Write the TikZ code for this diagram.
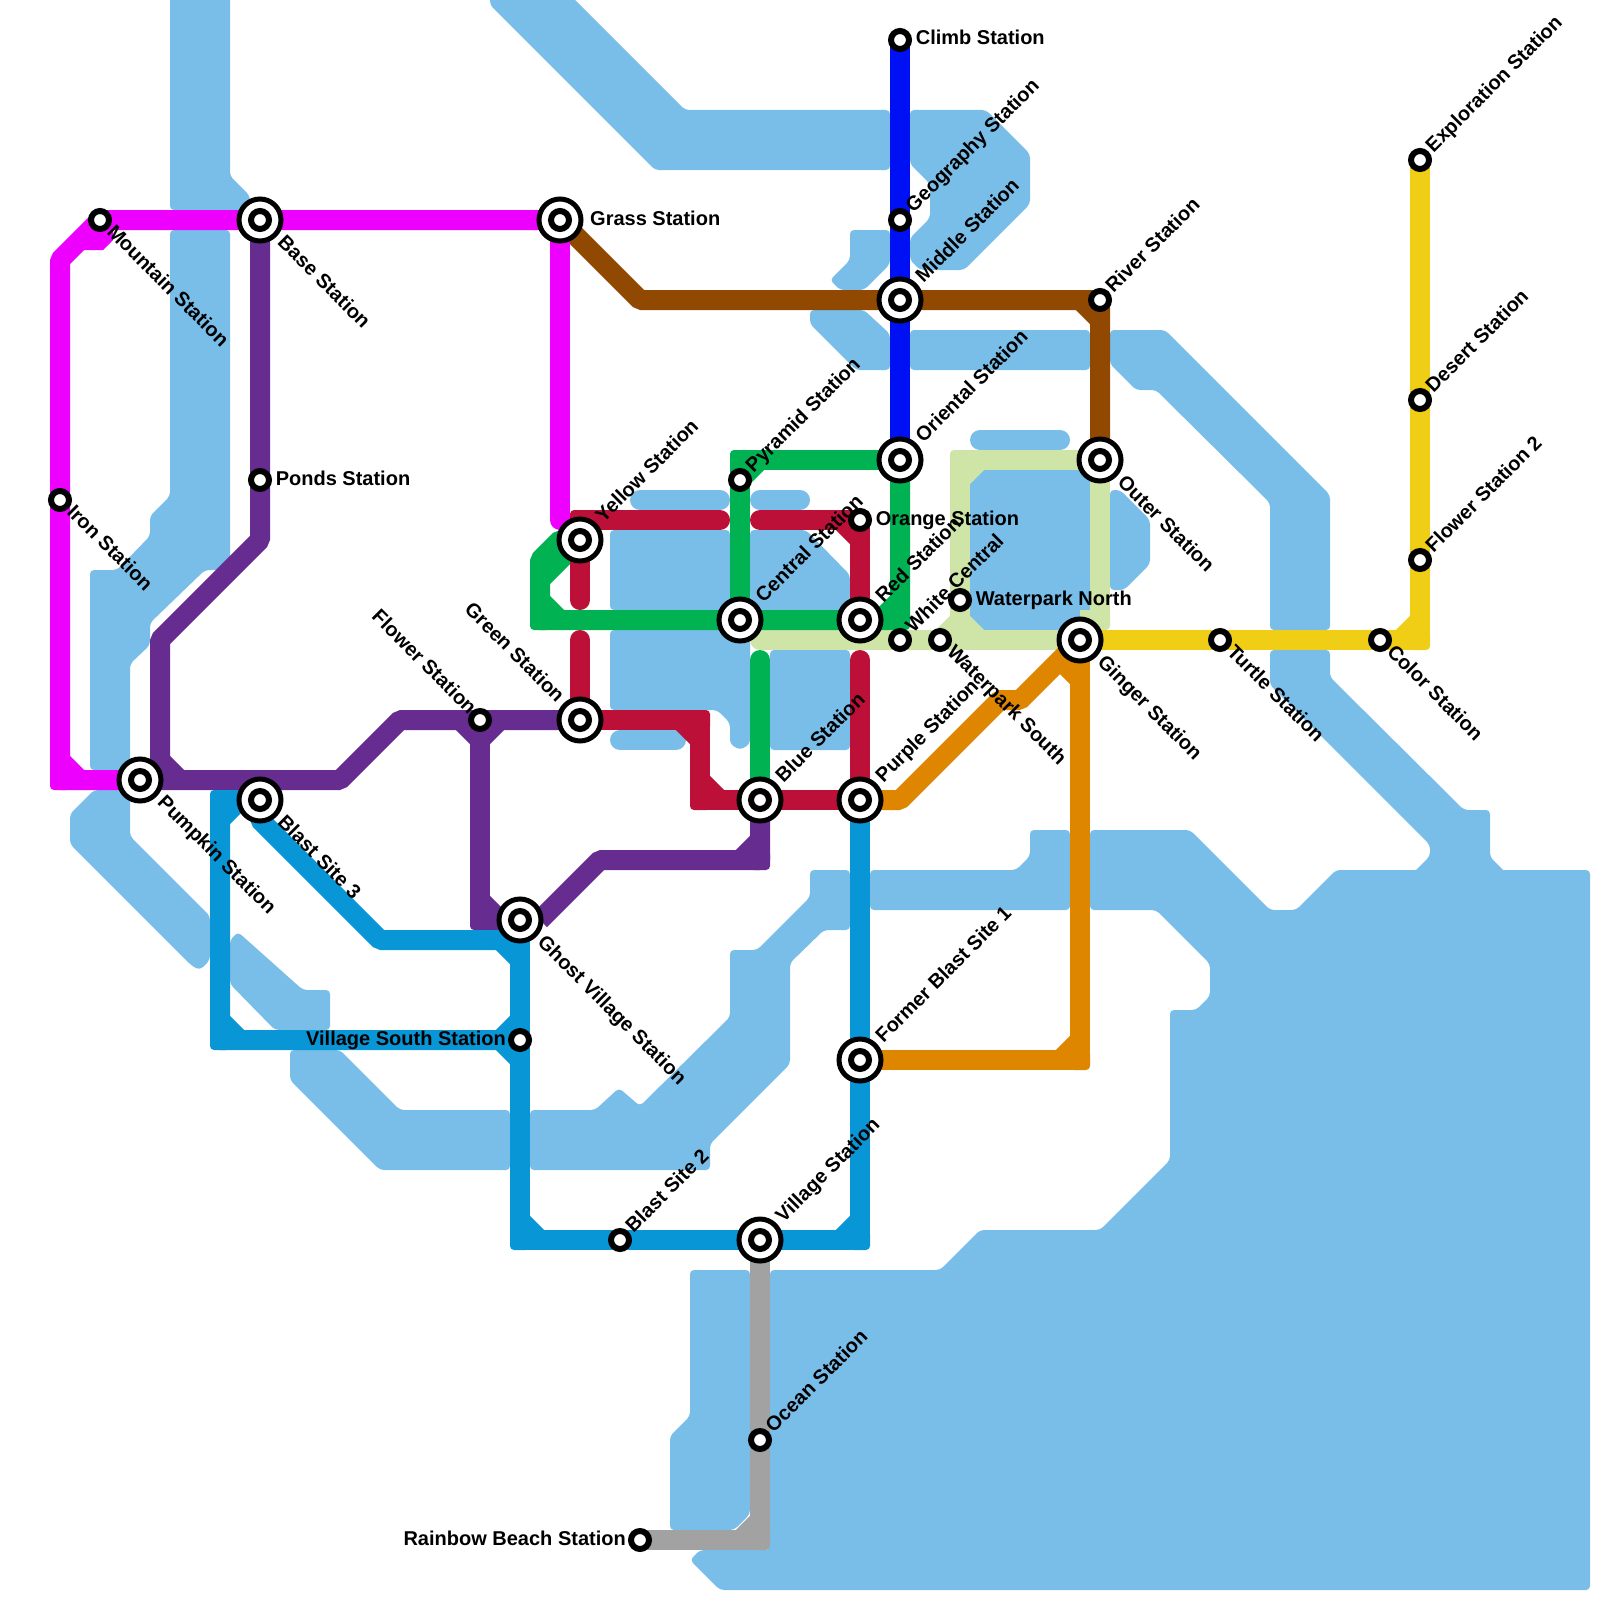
\documentclass[tikz,border=0pt]{standalone}
\usepackage{fontspec}
\setmainfont{Liberation Sans}
\usetikzlibrary{calc}
\pgfdeclarelayer{waterlayer}
\pgfdeclarelayer{linelayer}
\pgfsetlayers{waterlayer,linelayer,main}
\definecolor{cwater}{HTML}{79BDE9}
\definecolor{cmag}{HTML}{EE00FF}
\definecolor{cpur}{HTML}{662C90}
\definecolor{cred}{HTML}{BD1038}
\definecolor{cgrn}{HTML}{00B251}
\definecolor{cpale}{HTML}{CFE4A7}
\definecolor{cbrn}{HTML}{914800}
\definecolor{corg}{HTML}{DF8600}
\definecolor{cyel}{HTML}{F0CE15}
\definecolor{ccya}{HTML}{0896D7}
\definecolor{cblu}{HTML}{0010F5}
\definecolor{cgry}{HTML}{A2A2A2}
\tikzset{
  wat/.style={fill=cwater,rounded corners=4pt},
  pill/.style={draw=cwater,line width=20pt,line cap=round},
  lin/.style={line width=20pt,line join=bevel,line cap=butt},
  rnd/.style={line width=20pt,line join=bevel,line cap=round},
  big/.style={circle,draw=black,fill=white,line width=5pt,minimum size=42pt,inner sep=0pt,outer sep=0pt,
    path picture={\draw[black,line width=6pt] (path picture bounding box.center) circle (9pt);}},
  small/.style={circle,draw=black,fill=white,line width=6pt,minimum size=18pt,inner sep=0pt,outer sep=0pt},
  txt/.style={font=\bfseries\fontsize{20}{24}\selectfont,inner sep=0pt,text height=14pt,text depth=4pt,black},
  ne/.style={txt,rotate=45,anchor=west},
  se/.style={txt,rotate=-45,anchor=west},
  nw/.style={txt,rotate=-45,anchor=east},
  ea/.style={txt,anchor=west},
  we/.style={txt,anchor=east},
}
\newcommand\lbl[5]{\node[#1] (#2) at ($(#3.center)+(#4)$) {#5};}
% rounded outer corner of a right-angle bend
\newcommand\cn[3]{\fill[#1,rounded corners=4pt] (#2-0.5,#3-0.5) rectangle (#2+0.5,#3+0.5);}
\def\nes{0.5,-0.5}
\def\neb{1.0,-1.0}
\def\ses{0.47,0.47}
\def\seb{1.0,1.0}
\def\nws{-0.4,-0.4}
\def\nwb{-1,-1}
\def\eas{0.78,0}
\def\eab{1.5,0}
\def\wes{-0.7,0}
\begin{document}
\begin{tikzpicture}[x=20pt,y=-20pt]
\useasboundingbox (0,0) rectangle (80,80);
% stations
\node[small] (Climb) at (45,2) {};
\node[small] (Geography) at (45,11) {};
\node[big] (Middle) at (45,15) {};
\node[big] (Oriental) at (45,23) {};
\node[small] (Orange) at (43,26) {};
\node[big] (Red) at (43,31) {};
\node[small] (Pyramid) at (37,24) {};
\node[big] (Central) at (37,31) {};
\node[big] (Yellow) at (29,27) {};
\node[big] (Green) at (29,36) {};
\node[small] (Flower) at (24,36) {};
\node[big] (Blue) at (38,40) {};
\node[big] (Purple) at (43,40) {};
\node[big] (Pumpkin) at (7,39) {};
\node[big] (BlastC) at (13,40) {};
\node[big] (Base) at (13,11) {};
\node[big] (Grass) at (28,11) {};
\node[small] (Mountain) at (5,11) {};
\node[small] (Iron) at (3,25) {};
\node[small] (Ponds) at (13,24) {};
\node[big] (Ghost) at (26,46) {};
\node[small] (VSouth) at (26,52) {};
\node[small] (BlastB) at (31,62) {};
\node[big] (Village) at (38,62) {};
\node[big] (BlastA) at (43,53) {};
\node[small] (Ocean) at (38,72) {};
\node[small] (Rainbow) at (32,77) {};
\node[small] (River) at (55,15) {};
\node[big] (Outer) at (55,23) {};
\node[big] (Ginger) at (54,32) {};
\node[small] (White) at (45,32) {};
\node[small] (WSouth) at (47,32) {};
\node[small] (WNorth) at (48,30) {};
\node[small] (Turtle) at (61,32) {};
\node[small] (Color) at (69,32) {};
\node[small] (FlowerB) at (71,28) {};
\node[small] (Desert) at (71,20) {};
\node[small] (Exploration) at (71,8) {};
% labels
\lbl{ea}{l1}{Climb}{\eas}{Climb Station}
\lbl{ne}{l2}{Geography}{\nes}{Geography Station}
\lbl{ne}{l3}{Middle}{\neb}{Middle Station}
\lbl{ne}{l4}{Oriental}{\neb}{Oriental Station}
\lbl{ea}{l5}{Orange}{\eas}{Orange Station}
\lbl{ne}{l6}{Red}{\neb}{Red Station}
\lbl{ne}{l7}{Pyramid}{\nes}{Pyramid Station}
\lbl{ne}{l8}{Central}{\neb}{Central Station}
\lbl{ne}{l9}{Yellow}{\neb}{Yellow Station}
\lbl{nw}{l10}{Green}{\nwb}{Green Station}
\lbl{nw}{l11}{Flower}{\nws}{Flower Station}
\lbl{ne}{l12}{Blue}{\neb}{Blue Station}
\lbl{ne}{l13}{Purple}{\neb}{Purple Station}
\lbl{se}{l14}{Pumpkin}{\seb}{Pumpkin Station}
\lbl{se}{l15}{BlastC}{\seb}{Blast Site 3}
\lbl{se}{l16}{Base}{\seb}{Base Station}
\lbl{ea}{l17}{Grass}{\eab}{Grass Station}
\lbl{se}{l18}{Mountain}{\ses}{Mountain Station}
\lbl{se}{l19}{Iron}{\ses}{Iron Station}
\lbl{ea}{l20}{Ponds}{\eas}{Ponds Station}
\lbl{se}{l21}{Ghost}{\seb}{Ghost Village Station}
\lbl{we}{l22}{VSouth}{\wes}{Village South Station}
\lbl{ne}{l23}{BlastB}{\nes}{Blast Site 2}
\lbl{ne}{l24}{Village}{\neb}{Village Station}
\lbl{ne}{l25}{BlastA}{\neb}{Former Blast Site 1}
\lbl{ne}{l26}{Ocean}{\nes}{Ocean Station}
\lbl{we}{l27}{Rainbow}{\wes}{Rainbow Beach Station}
\lbl{ne}{l28}{River}{\nes}{River Station}
\lbl{se}{l29}{Outer}{\seb}{Outer Station}
\lbl{se}{l30}{Ginger}{\seb}{Ginger Station}
\lbl{ne}{l31}{White}{\nes}{White Central}
\lbl{se}{l32}{WSouth}{\ses}{Waterpark South}
\lbl{ea}{l33}{WNorth}{\eas}{Waterpark North}
\lbl{se}{l34}{Turtle}{\ses}{Turtle Station}
\lbl{se}{l35}{Color}{\ses}{Color Station}
\lbl{ne}{l36}{FlowerB}{\nes}{Flower Station 2}
\lbl{ne}{l37}{Desert}{\nes}{Desert Station}
\lbl{ne}{l38}{Exploration}{\nes}{Exploration Station}

\begin{pgfonlayer}{waterlayer}
\fill[wat] (8.5,-1) -- (11.5,-1) -- (11.5,8.8) -- (12.5,9.8) -- (12.5,10.5) -- (8.5,10.5) -- cycle;
\fill[wat] (8.5,11.5) -- (11.5,11.5) -- (11.5,28.5) -- (10.25,28.5) -- (7.5,31.15) -- (7.5,32.25) -- (6.5,33.2) -- (6.5,38.5) -- (4.5,38.5) -- (4.5,28.5) -- (5.85,28.5) -- (7.5,26.8) -- (7.5,25.8) -- (8.5,24.8) -- cycle;
\fill[wat] (4.7,39.5) -- (6.5,39.5) -- (6.5,41.8) -- (10.5,45.8) -- (10.5,48) -- (10,48.5) -- (9.6,48.3) -- (3.5,42.2) -- (3.5,40.7) -- cycle;
\fill[wat] (11.5,47) -- (11.9,46.6) -- (15.15,49.5) -- (16.5,49.5) -- (16.5,51.5) -- (13.75,51.5) -- (11.5,49.2) -- cycle;
\fill[wat] (14.5,52.5) -- (17,52.5) -- (20,55.5) -- (25.5,55.5) -- (25.5,58.5) -- (19,58.5) -- (14.5,54) -- cycle;
\fill[wat] (26.5,55.5) -- (29.75,55.5) -- (30.95,54.4) -- (32,55.3) -- (36.5,50.85) -- (36.5,47.5) -- (37.85,47.5) -- (40.5,44.85) -- (40.5,43.5) -- (42.5,43.5) -- (42.5,46.5) -- (41.2,46.5) -- (39.5,48.15) -- (39.5,53.2) -- (35.5,57.2) -- (35.5,58.5) -- (26.5,58.5) -- cycle;
\fill[wat] (43.5,43.5) -- (50.8,43.5) -- (51.5,42.8) -- (51.5,41.5) -- (53.5,41.5) -- (53.5,45.5) -- (43.5,45.5) -- cycle;
\fill[wat] (54.5,41.5) -- (59.5,41.5) -- (63.5,45.5) -- (64.8,45.5) -- (66.8,43.5) -- (79.5,43.5) -- (79.5,79.5) -- (36,79.5) -- (34.5,78) -- (35,77.5) -- (38.5,77.5) -- (38.5,63.5) -- (47,63.5) -- (49,61.5) -- (55,61.5) -- (58.5,58) -- (58.5,50.5) -- (59.8,50.5) -- (60.5,49.8) -- (60.5,48.2) -- (57.8,45.5) -- (54.5,45.5) -- cycle;
\fill[wat] (63.5,32.5) -- (66.5,32.5) -- (66.5,33.85) -- (73.2,40.5) -- (74.5,40.5) -- (74.5,42.85) -- (75.5,43.85) -- (70.4,43.9) -- (71.5,42.8) -- (71.5,42.25) -- (63.5,34.25) -- cycle;
\fill[wat] (34.5,63.5) -- (37.5,63.5) -- (37.5,75.7) -- (36.7,76.5) -- (33.5,76.5) -- (33.5,71.8) -- (34.5,70.8) -- cycle;
\fill[wat] (24.5,-1) -- (27.75,-1) -- (34.25,5.5) -- (44.5,5.5) -- (44.5,8.5) -- (32.75,8.5) -- (24.5,0.25) -- cycle;
\fill[wat] (45.5,5.5) -- (49.3,5.5) -- (51.5,7.7) -- (51.5,10.2) -- (48.2,13.5) -- (46,13.5) -- (45.5,13) -- (45.5,11.9) -- (46.5,10.9) -- (46.5,9.2) -- (45.5,8.2) -- cycle;
\fill[wat] (42.5,11.5) -- (44.5,11.5) -- (44.5,13.2) -- (43.2,14.5) -- (42,14.5) -- (41.5,14) -- (42.5,13) -- cycle;
\fill[wat] (40.5,15.5) -- (43.2,15.5) -- (44.5,16.7) -- (44.5,18.5) -- (42.8,18.5) -- (40.5,16.2) -- cycle;
\fill[wat] (45.5,16.5) rectangle (54.5,18.5);
\fill[wat] (55.5,16.5) -- (58.25,16.5) -- (66.5,24.75) -- (66.5,31.5) -- (63.5,31.5) -- (63.5,25.15) -- (57.8,19.5) -- (56.8,19.5) -- (55.5,18.2) -- cycle;
\fill[wat] (55.5,24.5) -- (56,24.5) -- (57.5,26) -- (57.5,28.2) -- (56.2,29.5) -- (55.5,29.5) -- cycle;
\fill[wat] (48.5,23.5) rectangle (54.5,31.5);
\draw[pill] (49,22) -- (53,22);
\draw[pill] (32,25) -- (36,25);
\draw[pill] (38,25) -- (40,25);
\fill[wat] (30.5,26.5) rectangle (36.5,30.5);
\fill[wat] (37.5,26.5) -- (40.3,26.5) -- (42.5,28.75) -- (42.5,30.5) -- (37.5,30.5) -- cycle;
\fill[wat] (30.5,31.5) -- (37.5,31.5) -- (37.5,37.2) -- (37,37.5) -- (36.5,37.2) -- (36.5,36.15) -- (35.85,35.5) -- (30.5,35.5) -- cycle;
\draw[pill] (31,37) -- (33.8,37);
\fill[wat] (38.5,32.5) rectangle (42.5,37.5);
\end{pgfonlayer}

\begin{pgfonlayer}{linelayer}
% pale green
\draw[rnd,cpale] (38,32) -- (Ginger.center);
\draw[lin,cpale] (48,32) -- (48,23) -- (Outer.center) -- (55,31) -- (54,31);
\draw[lin,cpale] (48,24) -- (49,23) (48,31) -- (49,32) (48,31) -- (47,32);
\cn{cpale}{48}{23} \cn{cpale}{55}{31}
% yellow
\draw[lin,cyel] (Ginger.center) -- (71,32) -- (Exploration.center);
\draw[lin,cyel] (70,32) -- (71,31);
\cn{cyel}{71}{32}
% blue
\draw[lin,cblu] (Climb.center) -- (Oriental.center);
% brown
\draw[lin,cbrn] (Grass.center) -- (32,15) -- (55,15) -- (Outer.center);
\draw[lin,cbrn] (54,15) -- (55,16);
\cn{cbrn}{55}{15}
% magenta
\draw[lin,cmag] (Grass.center) -- (Mountain.center) -- (3,13) -- (3,39) -- (Pumpkin.center);
\draw[lin,cmag] (3,38) -- (4,39);
\cn{cmag}{3}{39}
\fill[cmag] (4.2,12.5) -- (5.15,12.5) -- (5.65,12) -- (5.65,11.5) -- (4.2,11.5) -- cycle;
\draw[rnd,cmag] (Grass.center) -- (28,26);
% purple
\draw[lin,cpur] (Base.center) -- (13,27) -- (8,32) -- (8,39) -- (17,39) -- (20,36) -- (Green.center);
\draw[lin,cpur] (8,38) -- (9,39);
\draw[lin,cpur] (Flower.center) -- (24,46) -- (Ghost.center);
\draw[lin,cpur] (23,36) -- (24,37) (25,36) -- (24,37) (24,45) -- (25,46);
\draw[lin,cpur] (27,46) -- (30,43) -- (38,43) -- (Blue.center);
\draw[lin,cpur] (37,43) -- (38,42);
\cn{cpur}{24}{46} \cn{cpur}{38}{43}
% cyan
\draw[lin,ccya] (Ghost.center) -- (26,47) -- (19,47) -- (13,41) -- (BlastC.center) -- (11,40) -- (11,52) -- (VSouth.center);
\draw[lin,ccya] (26,47) -- (26,62) -- (43,62) -- (Purple.center);
\draw[lin,ccya] (11,41) -- (12,40) (11,51) -- (12,52) (25,47) -- (26,48) (25,52) -- (26,51) (25,52) -- (26,53) (26,61) -- (27,62) (42,62) -- (43,61);
\cn{ccya}{11}{40} \cn{ccya}{11}{52} \cn{ccya}{26}{62} \cn{ccya}{43}{62}
% grey
\draw[lin,cgry] (Village.center) -- (38,77) -- (Rainbow.center);
\draw[lin,cgry] (37,77) -- (38,76);
\cn{cgry}{38}{77}
% orange
\draw[lin,corg] (Purple.center) -- (45,40) -- (50,35) -- (51,35) -- (Ginger.center);
\draw[lin,corg] (Ginger.center) -- (54,53) -- (BlastA.center);
\draw[lin,corg] (53,33) -- (54,34) (54,52) -- (53,53);
\cn{corg}{54}{53}
% green
\draw[lin,cgrn] (Oriental.center) -- (37,23) -- (Central.center);
\draw[lin,cgrn] (37,24) -- (38,23);
\draw[lin,cgrn] (Oriental.center) -- (45,31) -- (27,31) -- (27,28) -- (28,27) -- (Yellow.center);
\draw[lin,cgrn] (Yellow.center) -- (27,29) (27,30) -- (28,31) (44,31) -- (45,30);
\draw[rnd,cgrn] (38,33) -- (Blue.center);
\cn{cgrn}{37}{23} \cn{cgrn}{27}{31} \cn{cgrn}{45}{31}
% red
\draw[rnd,cred] (36,26) -- (29,26) -- (Yellow.center) -- (29,30);
\draw[rnd,cred] (29,32) -- (Green.center) -- (35,36) -- (35,40) -- (Purple.center) -- (43,33);
\draw[rnd,cred] (38,26) -- (43,26) -- (Red.center);
\draw[lin,cred] (42,26) -- (43,27) (34,36) -- (35,37) (35,39) -- (36,40);
\cn{cred}{29}{26} \cn{cred}{35}{36} \cn{cred}{35}{40} \cn{cred}{43}{26}
\end{pgfonlayer}
\end{tikzpicture}
\end{document}
